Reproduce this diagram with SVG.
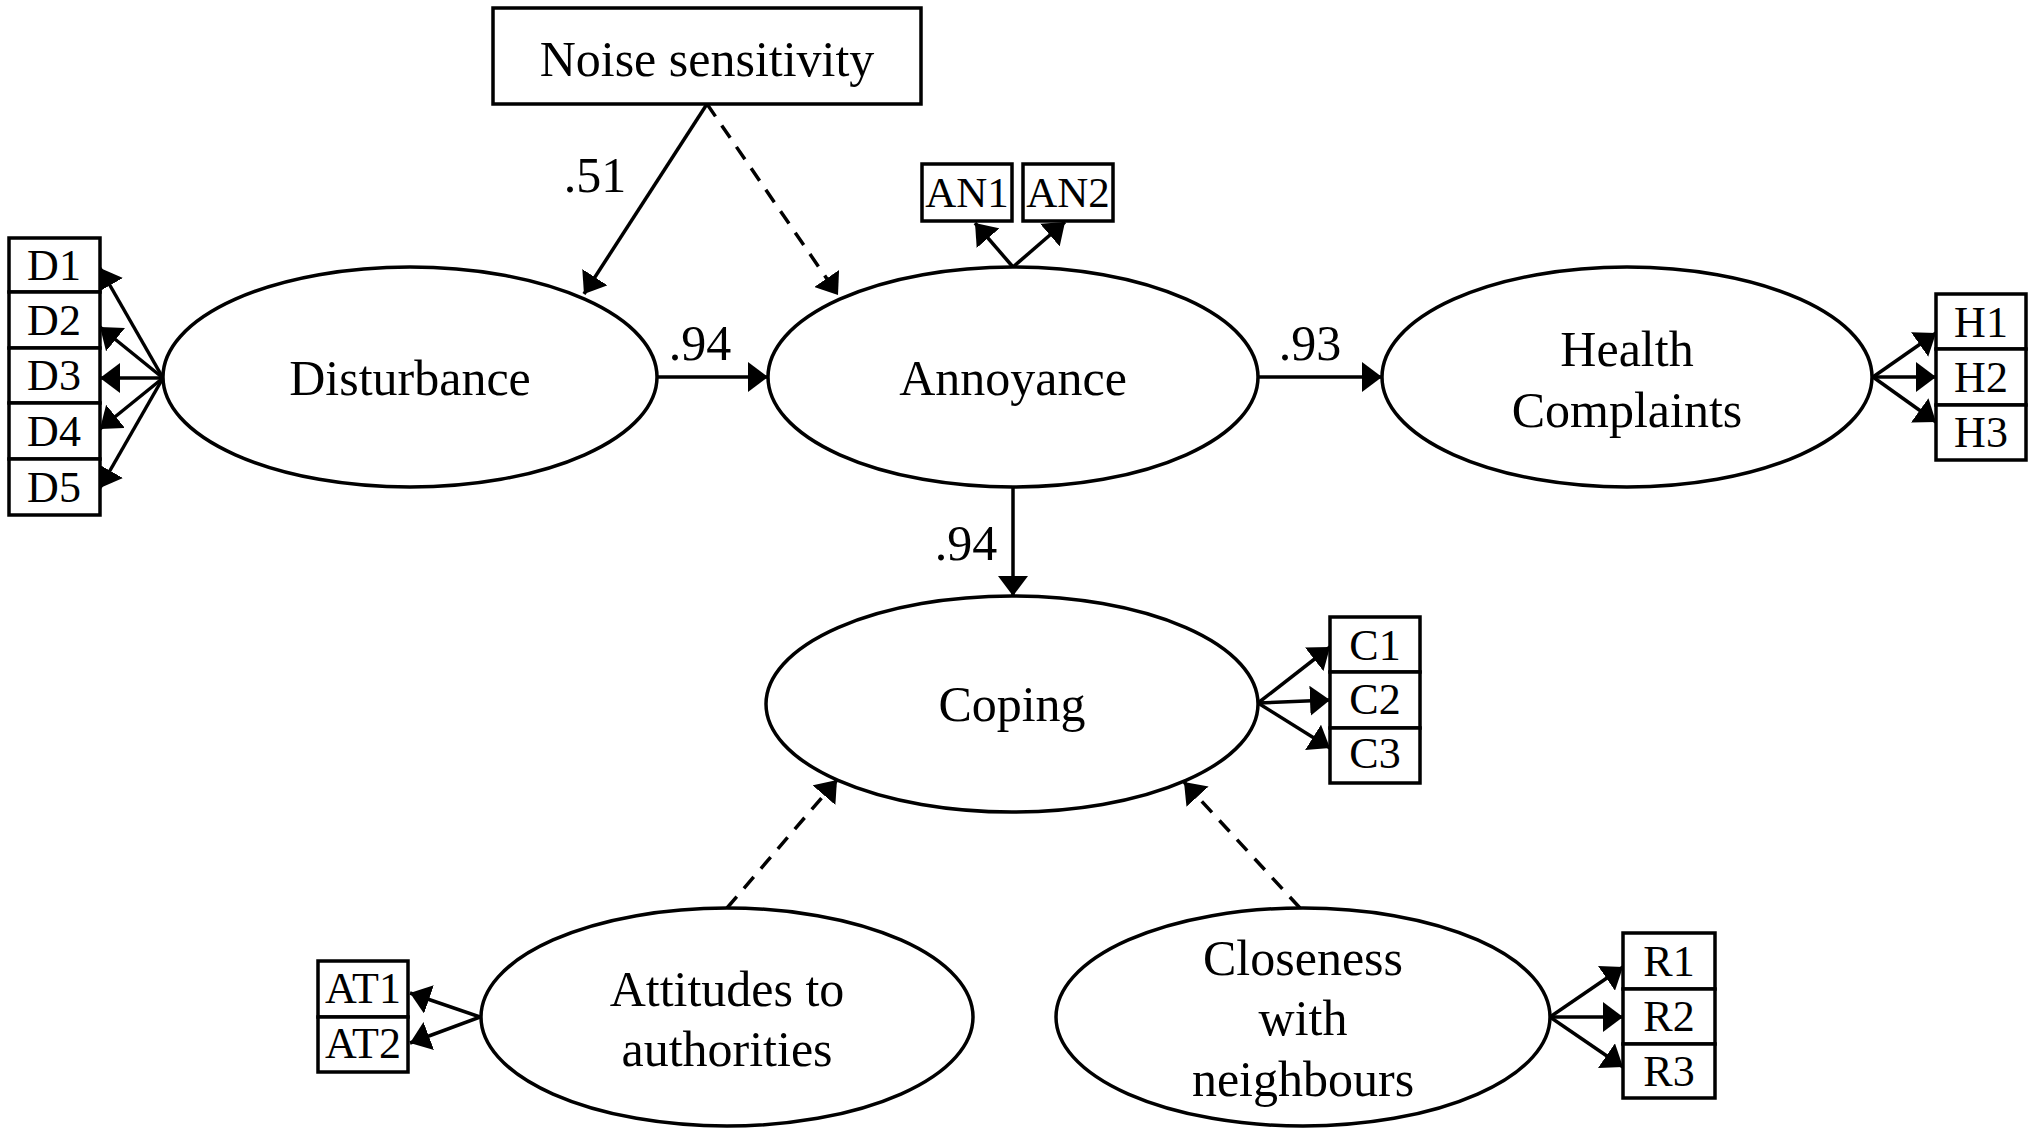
<svg xmlns="http://www.w3.org/2000/svg" width="2044" height="1128" viewBox="0 0 2044 1128">
<style>
text{font-family:"Liberation Serif","Times New Roman",serif;fill:#000;text-anchor:middle}
.lat{fill:#fff;stroke:#000;stroke-width:3.5}
.box{fill:#fff;stroke:#000;stroke-width:3.5}
.big{font-size:50px}
.ind{font-size:44px}
.coef{font-size:50px}
.c{stroke:#000;stroke-width:3.5;fill:none;marker-end:url(#ah)}
.d{stroke-dasharray:15 11}
</style>
<defs>
<marker id="ah" markerUnits="userSpaceOnUse" markerWidth="21" markerHeight="30" refX="20" refY="15" orient="auto" viewBox="0 0 21 30">
<path d="M0,0 L20,15 L0,30 z" fill="#000"/>
</marker>
</defs>
<rect width="2044" height="1128" fill="#fff"/>

<g id="connectors">
<line class="c" x1="707" y1="104" x2="584" y2="294"/>
<line class="c d" x1="707" y1="104" x2="838" y2="295"/>
<line class="c" x1="658" y1="377" x2="768" y2="377"/>
<line class="c" x1="1258" y1="377" x2="1382" y2="377"/>
<line class="c" x1="1013" y1="487" x2="1013" y2="596"/>
<line class="c d" x1="727" y1="908" x2="837" y2="780"/>
<line class="c d" x1="1300" y1="908" x2="1184" y2="782"/>
<line class="c" x1="163" y1="378" x2="100" y2="268"/>
<line class="c" x1="163" y1="378" x2="100" y2="327"/>
<line class="c" x1="163" y1="378" x2="100" y2="378"/>
<line class="c" x1="163" y1="378" x2="100" y2="429"/>
<line class="c" x1="163" y1="378" x2="100" y2="488"/>
<line class="c" x1="1013" y1="267" x2="975" y2="223"/>
<line class="c" x1="1013" y1="267" x2="1065" y2="222"/>
<line class="c" x1="1873" y1="377" x2="1936" y2="333"/>
<line class="c" x1="1873" y1="377" x2="1936" y2="377"/>
<line class="c" x1="1873" y1="377" x2="1936" y2="422"/>
<line class="c" x1="1258" y1="703" x2="1330" y2="647"/>
<line class="c" x1="1258" y1="703" x2="1330" y2="700"/>
<line class="c" x1="1258" y1="703" x2="1330" y2="748"/>
<line class="c" x1="480" y1="1017" x2="410" y2="993"/>
<line class="c" x1="480" y1="1017" x2="410" y2="1043"/>
<line class="c" x1="1550" y1="1017" x2="1623" y2="967"/>
<line class="c" x1="1550" y1="1017" x2="1623" y2="1017"/>
<line class="c" x1="1550" y1="1017" x2="1623" y2="1067"/>
<text class="coef" x="595" y="192">.51</text>
<text class="coef" x="700" y="360">.94</text>
<text class="coef" x="1310" y="360">.93</text>
<text class="coef" x="966" y="560">.94</text>
</g>

<g id="noise">
<rect class="box" x="493" y="8" width="428" height="96"/>
<text class="big" x="707" y="76">Noise sensitivity</text>
</g>

<g id="disturbance">
<ellipse class="lat" cx="410" cy="377" rx="247" ry="110"/>
<text class="big" x="410" y="395">Disturbance</text>
</g>

<g id="annoyance">
<ellipse class="lat" cx="1013" cy="377" rx="245" ry="110"/>
<text class="big" x="1013" y="395">Annoyance</text>
</g>

<g id="health">
<ellipse class="lat" cx="1627" cy="377" rx="245" ry="110"/>
<text class="big" x="1627" y="366">Health</text>
<text class="big" x="1627" y="427">Complaints</text>
</g>

<g id="coping">
<ellipse class="lat" cx="1012" cy="704" rx="246" ry="108"/>
<text class="big" x="1012" y="721">Coping</text>
</g>

<g id="attitudes">
<ellipse class="lat" cx="727" cy="1017" rx="246" ry="109"/>
<text class="big" x="727" y="1006">Attitudes to</text>
<text class="big" x="727" y="1066">authorities</text>
</g>

<g id="closeness">
<ellipse class="lat" cx="1303" cy="1017" rx="247" ry="109"/>
<text class="big" x="1303" y="975">Closeness</text>
<text class="big" x="1303" y="1035">with</text>
<text class="big" x="1303" y="1096">neighbours</text>
</g>

<g id="D1"><rect class="box" x="9" y="238" width="91" height="54"/><text class="ind" x="54" y="280">D1</text></g>
<g id="D2"><rect class="box" x="9" y="292" width="91" height="56"/><text class="ind" x="54" y="335">D2</text></g>
<g id="D3"><rect class="box" x="9" y="348" width="91" height="55"/><text class="ind" x="54" y="390">D3</text></g>
<g id="D4"><rect class="box" x="9" y="403" width="91" height="56"/><text class="ind" x="54" y="446">D4</text></g>
<g id="D5"><rect class="box" x="9" y="459" width="91" height="56"/><text class="ind" x="54" y="502">D5</text></g>

<g id="AN1"><rect class="box" x="922" y="164" width="90" height="57"/><text class="ind" x="967" y="207" style="font-size:43px">AN1</text></g>
<g id="AN2"><rect class="box" x="1023" y="164" width="90" height="57"/><text class="ind" x="1068" y="207" style="font-size:43px">AN2</text></g>

<g id="H1"><rect class="box" x="1936" y="294" width="90" height="55"/><text class="ind" x="1981" y="337">H1</text></g>
<g id="H2"><rect class="box" x="1936" y="349" width="90" height="56"/><text class="ind" x="1981" y="392">H2</text></g>
<g id="H3"><rect class="box" x="1936" y="405" width="90" height="55"/><text class="ind" x="1981" y="447">H3</text></g>

<g id="C1"><rect class="box" x="1330" y="617" width="90" height="55"/><text class="ind" x="1375" y="660">C1</text></g>
<g id="C2"><rect class="box" x="1330" y="672" width="90" height="56"/><text class="ind" x="1375" y="714">C2</text></g>
<g id="C3"><rect class="box" x="1330" y="728" width="90" height="55"/><text class="ind" x="1375" y="768">C3</text></g>

<g id="AT1"><rect class="box" x="318" y="961" width="90" height="56"/><text class="ind" x="363" y="1003">AT1</text></g>
<g id="AT2"><rect class="box" x="318" y="1017" width="90" height="55"/><text class="ind" x="363" y="1058">AT2</text></g>

<g id="R1"><rect class="box" x="1623" y="933" width="92" height="56"/><text class="ind" x="1669" y="976">R1</text></g>
<g id="R2"><rect class="box" x="1623" y="989" width="92" height="55"/><text class="ind" x="1669" y="1031">R2</text></g>
<g id="R3"><rect class="box" x="1623" y="1044" width="92" height="54"/><text class="ind" x="1669" y="1086">R3</text></g>
</svg>
